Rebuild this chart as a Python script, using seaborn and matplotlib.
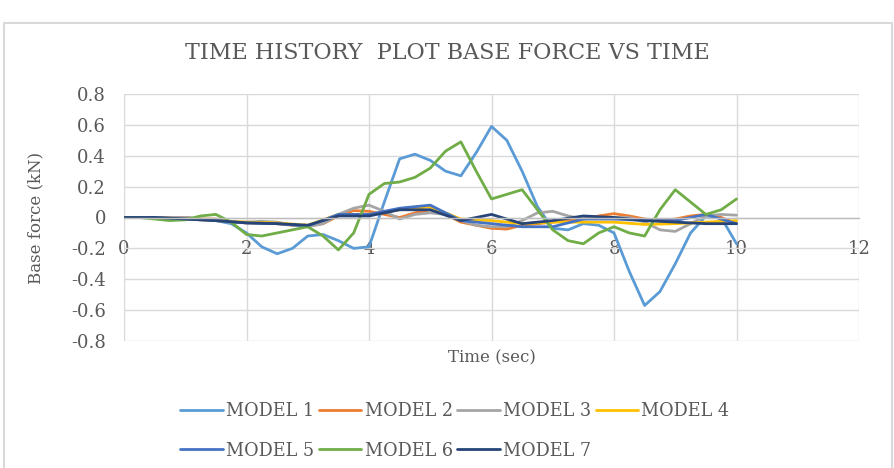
import matplotlib
matplotlib.use("Agg")
import matplotlib.pyplot as plt
from matplotlib.lines import Line2D
import seaborn as sns
import pandas as pd

# Time steps (sec)
time_q = [i * 0.25 for i in range(41)]   # 0 .. 10 every 0.25 s
time_h = [i * 0.5 for i in range(21)]    # 0 .. 10 every 0.5 s

# Base force (kN)
model_1 = [0, 0, 0, 0, 0, -0.01, -0.02, -0.04, -0.10, -0.19, -0.235, -0.20, -0.12,
           -0.11, -0.15, -0.20, -0.19, 0.10, 0.38, 0.41, 0.37, 0.30, 0.27, 0.42, 0.59,
           0.50, 0.30, 0.07, -0.07, -0.08, -0.04, -0.05, -0.10, -0.35, -0.57, -0.48,
           -0.30, -0.10, 0.01, 0.0, -0.17]
model_2 = [0, 0, 0, 0, 0, -0.01, -0.01, -0.03, -0.035, -0.035, -0.04, -0.05, -0.055,
           -0.04, 0.01, 0.045, 0.04, 0.02, 0.0, 0.03, 0.05, 0.02, -0.03, -0.05, -0.07,
           -0.075, -0.05, -0.04, -0.03, -0.02, -0.01, 0.01, 0.025, 0.01, -0.01, -0.02,
           -0.01, 0.01, 0.02, 0.0, -0.04]
model_3 = [0, 0, 0, 0, 0, -0.01, -0.02, -0.03, -0.03, -0.025, -0.03, -0.05, -0.06,
           -0.04, 0.02, 0.06, 0.08, 0.04, -0.01, 0.02, 0.03, 0.02, -0.02, -0.05, -0.06,
           -0.06, -0.02, 0.03, 0.04, 0.01, -0.01, 0.0, 0.0, 0.0, -0.03, -0.08, -0.09,
           -0.04, 0.01, 0.02, 0.015]
model_4 = [0, 0, -0.01, -0.02, -0.03, -0.035, -0.05, 0.02, 0.02, 0.05, 0.07, -0.01,
           -0.02, -0.04, -0.03, -0.03, -0.03, -0.045, -0.04, -0.03, -0.02]
model_5 = [0, 0, -0.01, -0.02, -0.035, -0.04, -0.055, 0.02, 0.02, 0.06, 0.08, -0.02,
           -0.04, -0.06, -0.06, -0.01, -0.01, -0.02, -0.02, 0.02, -0.04]
model_6 = [0, 0, -0.01, -0.02, -0.015, 0.01, 0.02, -0.03, -0.11, -0.12, -0.10, -0.08,
           -0.06, -0.12, -0.21, -0.10, 0.15, 0.22, 0.23, 0.26, 0.32, 0.43, 0.49, 0.30,
           0.12, 0.15, 0.18, 0.05, -0.08, -0.15, -0.17, -0.10, -0.06, -0.10, -0.12,
           0.05, 0.18, 0.10, 0.02, 0.05, 0.12]
model_7 = [0, 0, -0.01, -0.02, -0.035, -0.04, -0.05, 0.01, 0.01, 0.05, 0.05, -0.02,
           0.02, -0.04, -0.02, 0.01, 0.0, -0.02, -0.03, -0.04, -0.04]

models = ["MODEL 1", "MODEL 2", "MODEL 3", "MODEL 4", "MODEL 5", "MODEL 6", "MODEL 7"]
colors = ["#5B9BD5", "#ED7D31", "#A5A5A5", "#FFC000", "#4472C4", "#70AD47", "#264478"]

y_ticks = [-0.8, -0.6, -0.4, -0.2, 0, 0.2, 0.4, 0.6, 0.8]
y_labels = ["-0.8", "-0.6", "-0.4", "-0.2", "0", "0.2", "0.4", "0.6", "0.8"]
x_ticks = [0, 2, 4, 6, 8, 10, 12]

series = {
    "MODEL 1": (time_q, model_1),
    "MODEL 2": (time_q, model_2),
    "MODEL 3": (time_q, model_3),
    "MODEL 4": (time_h, model_4),
    "MODEL 5": (time_h, model_5),
    "MODEL 6": (time_q, model_6),
    "MODEL 7": (time_h, model_7),
}

rows = []
for name in models:
    t, v = series[name]
    for a, b in zip(t, v):
        rows.append({"Time": a, "Force": b, "Model": name})
df = pd.DataFrame(rows)

sns.set_style("white")
plt.rcParams["font.family"] = ["DejaVu Serif"]
txt = "#595959"
grid_c = "#D9D9D9"

fig = plt.figure(figsize=(8.94, 4.68), dpi=100)
ax = fig.add_axes([124 / 894, 1 - 341 / 468, (859 - 124) / 894, (341 - 94) / 468])

sns.lineplot(data=df, x="Time", y="Force", hue="Model", hue_order=models,
             palette=colors, linewidth=2, legend=False, ax=ax)

ax.set_xlim(0, 12)
ax.set_ylim(-0.8, 0.8)
ax.set_xticks(x_ticks)
ax.set_yticks(y_ticks)
ax.set_yticklabels(y_labels)
ax.grid(True, color=grid_c, linewidth=1)
ax.set_axisbelow(True)
for s in ["top", "right", "left"]:
    ax.spines[s].set_visible(False)
ax.spines["bottom"].set_position(("data", 0))
ax.spines["bottom"].set_color("#BFBFBF")
ax.spines["bottom"].set_linewidth(1)
ax.tick_params(axis="x", length=0, pad=16, labelsize=13, colors=txt)
ax.tick_params(axis="y", length=0, pad=13, labelsize=13, colors=txt)

ax.set_xlabel("Time (sec)", fontsize=12, color=txt)
ax.xaxis.set_label_coords(0.5, -0.035)
ax.set_ylabel("Base force (kN)", fontsize=12, color=txt)
ax.yaxis.set_label_coords(-0.108, 0.5)

fig.text(0.5, 1 - 53 / 468, "TIME HISTORY  PLOT BASE FORCE VS TIME", ha="center",
         va="center", fontsize=16, color=txt)

handles = [Line2D([], [], color=c, linewidth=2) for c in colors]
order = [0, 4, 1, 5, 2, 6, 3]
fig.legend([handles[i] for i in order], [models[i] for i in order], ncol=4,
           loc="center", bbox_to_anchor=(455 / 894, 1 - 431 / 468), frameon=False,
           fontsize=12.7, labelcolor=txt, handlelength=2.4, handletextpad=0.2,
           columnspacing=0.25, labelspacing=1.2)

# outer chart border
fig.add_artist(Line2D([4 / 894, 892 / 894], [1 - 23 / 468, 1 - 23 / 468],
                      transform=fig.transFigure, color=grid_c, linewidth=1.5))
fig.add_artist(Line2D([4 / 894, 4 / 894], [0, 1 - 23 / 468],
                      transform=fig.transFigure, color=grid_c, linewidth=1.5))
fig.add_artist(Line2D([892 / 894, 892 / 894], [0, 1 - 23 / 468],
                      transform=fig.transFigure, color=grid_c, linewidth=1.5))

fig.savefig("out.png", dpi=100)
